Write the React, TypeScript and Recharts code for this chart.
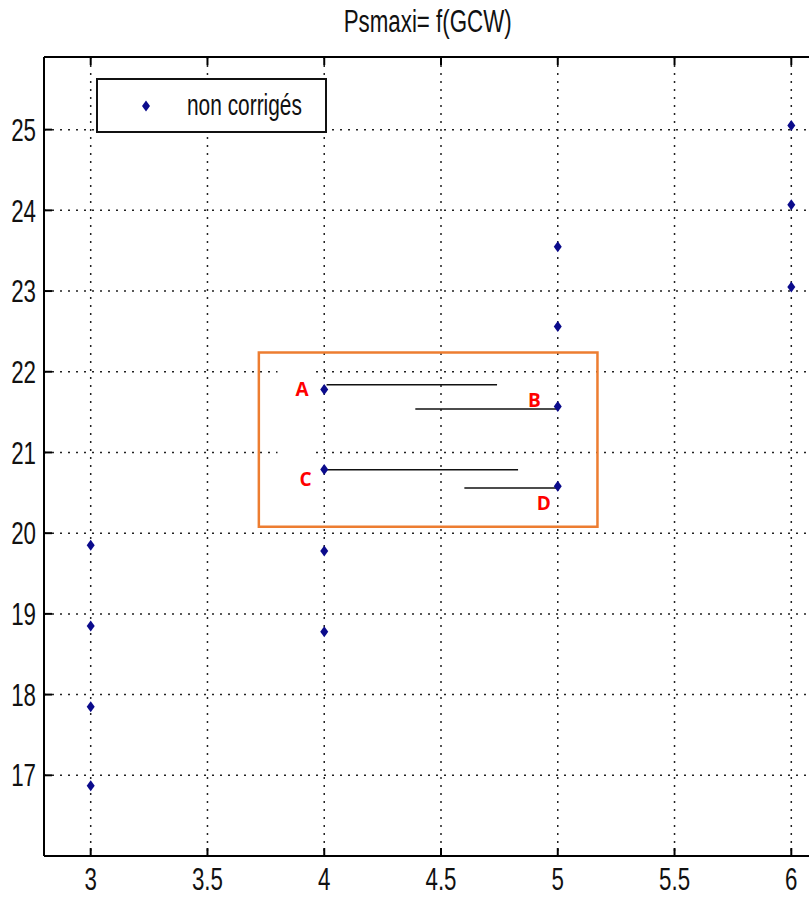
import {
  ScatterChart,
  Scatter,
  XAxis,
  YAxis,
  CartesianGrid,
  ReferenceArea,
  ReferenceLine,
  ReferenceDot,
  Legend,
} from "recharts";

// Données
const gcw = [3, 3, 3, 3, 4, 4, 4, 4, 5, 5, 5, 5, 6, 6, 6];
const psmaxi = [19.85, 18.85, 17.85, 16.87, 21.78, 20.79, 19.78, 18.78, 23.55, 22.56, 21.57, 20.58, 25.05, 24.07, 23.05];
const xTicks = [3, 3.5, 4, 4.5, 5, 5.5, 6];
const yTicks = [17, 18, 19, 20, 21, 22, 23, 24, 25];
const xDomain = [2.8, 6.2];
const yDomain = [16, 25.9];
const title = "Psmaxi= f(GCW)";
const seriesName = "non corrigés";

// Annotations ajoutées par-dessus (cadre orange, traits, lettres)
const boxX = [3.72, 5.17];
const boxY = [20.08, 22.24];
const segLetters = ["A", "B", "C", "D"];
const segX1 = [4.01, 4.39, 4.01, 4.6];
const segX2 = [4.74, 5.0, 4.83, 5.0];
const segY = [21.84, 21.54, 20.785, 20.56];
const letterX = [3.905, 4.9, 3.92, 4.94];
const letterY = [21.79, 21.65, 20.67, 20.37];

const data = gcw.map((x, i) => ({ x, y: psmaxi[i] }));

const FONT = '"Liberation Sans", Arial, sans-serif';
const SQUEEZE = 0.72; // police Matlab très étroite
const BLUE = "#0b0b8c";

const Diamond = (props: any) => {
  const { cx, cy } = props;
  return <path d={`M${cx},${cy - 5.5} L${cx + 4},${cy} L${cx},${cy + 5.5} L${cx - 4},${cy} Z`} fill={BLUE} />;
};

// tick étroit, centré sous la graduation
const XTick = (props: any) => {
  const { x, y, payload } = props;
  return (
    <g transform={`translate(${x},${y}) scale(${SQUEEZE},1)`}>
      <text x={0} y={0} dy="0.72em" textAnchor="middle" fill="#111" fontFamily={FONT} fontSize={31}>
        {payload.value}
      </text>
    </g>
  );
};

const YTick = (props: any) => {
  const { x, y, payload } = props;
  return (
    <g transform={`translate(${x},${y}) scale(${SQUEEZE},1)`}>
      <text x={0} y={0} dy="0.36em" textAnchor="end" fill="#111" fontFamily={FONT} fontSize={31}>
        {payload.value}
      </text>
    </g>
  );
};

const LegendBox = () => (
  <div
    style={{
      width: 227,
      height: 51,
      border: "2px solid #111",
      background: "#fff",
      position: "relative",
      fontFamily: FONT,
      fontSize: 29,
      color: "#111",
    }}
  >
    <svg width={90} height={51} style={{ position: "absolute", left: 0, top: 0 }}>
      <path d="M48,20.5 L52,26 L48,31.5 L44,26 Z" fill={BLUE} />
    </svg>
    <span
      style={{
        position: "absolute",
        left: 89,
        top: 8,
        whiteSpace: "nowrap",
        transform: `scaleX(${SQUEEZE})`,
        transformOrigin: "left center",
        lineHeight: "34px",
      }}
    >
      {seriesName}
    </span>
  </div>
);

const Letter = (props: any) => {
  const { cx, cy, payload } = props;
  return (
    <text
      x={cx}
      y={cy}
      textAnchor="middle"
      dominantBaseline="central"
      fill="#ff0000"
      fontFamily='"Open Sans", sans-serif'
      fontWeight="bold"
      fontSize={19}
    >
      {payload}
    </text>
  );
};

export default function App() {
  return (
    <div style={{ position: "absolute", left: 0, top: 0, width: 809, height: 897, overflow: "hidden", background: "#fff" }}>
      <div
        style={{
          position: "absolute",
          left: 0,
          width: 856,
          top: 5,
          textAlign: "center",
          fontFamily: FONT,
          fontSize: 31,
          color: "#111",
          lineHeight: "34px",
        }}
      >
        <span style={{ display: "inline-block", transform: `scaleX(${SQUEEZE})` }}>{title}</span>
      </div>
      <ScatterChart width={860} height={897} margin={{ top: 57, right: 22, bottom: 0, left: 0 }}>
        <CartesianGrid
          stroke="#222"
          strokeDasharray="2 6"
          strokeWidth={1.5}
          horizontalValues={yTicks}
          verticalValues={xTicks}
        />
        <XAxis
          type="number"
          dataKey="x"
          domain={xDomain}
          ticks={xTicks}
          height={41}
          tickSize={-8}
          tickMargin={20}
          axisLine={{ stroke: "#000", strokeWidth: 2 }}
          tickLine={{ stroke: "#000", strokeWidth: 2 }}
          tick={<XTick />}
          allowDataOverflow
        />
        <YAxis
          type="number"
          dataKey="y"
          domain={yDomain}
          ticks={yTicks}
          width={44}
          tickSize={-8}
          tickMargin={16}
          axisLine={{ stroke: "#000", strokeWidth: 2 }}
          tickLine={{ stroke: "#000", strokeWidth: 2 }}
          tick={<YTick />}
          allowDataOverflow
        />
        <Legend
          layout="vertical"
          align="center"
          verticalAlign="middle"
          content={<LegendBox />}
          wrapperStyle={{ left: 96, top: 78, width: 231, height: 55 }}
        />
        {/* cadre haut du graphe avec ses graduations vers l'intérieur */}
        <ReferenceLine y={yDomain[1]} stroke="#000" strokeWidth={2} />
        {xTicks.map((t) => (
          <ReferenceLine
            key={"tt" + t}
            segment={[
              { x: t, y: yDomain[1] },
              { x: t, y: yDomain[1] - 0.1 },
            ]}
            stroke="#000"
            strokeWidth={2}
          />
        ))}
        <ReferenceArea x1={3.8} x2={3.94} y1={21.96} y2={22.1} fill="#fff" fillOpacity={1} stroke="none" />
        <ReferenceArea x1={3.8} x2={3.94} y1={20.95} y2={21.05} fill="#fff" fillOpacity={1} stroke="none" />
        <Scatter name={seriesName} data={data} shape={<Diamond />} isAnimationActive={false} />
        <ReferenceArea
          x1={boxX[0]}
          x2={boxX[1]}
          y1={boxY[0]}
          y2={boxY[1]}
          fill="none"
          fillOpacity={0}
          stroke="#ed7d31"
          strokeWidth={2.5}
        />
        {segLetters.map((s, i) => (
          <ReferenceLine
            key={"l" + s}
            segment={[
              { x: segX1[i], y: segY[i] },
              { x: segX2[i], y: segY[i] },
            ]}
            stroke="#111"
            strokeWidth={1.5}
          />
        ))}
        {segLetters.map((s, i) => (
          <ReferenceDot key={"t" + s} x={letterX[i]} y={letterY[i]} r={0} shape={(p: any) => <Letter {...p} payload={s} />} />
        ))}
      </ScatterChart>
    </div>
  );
}
